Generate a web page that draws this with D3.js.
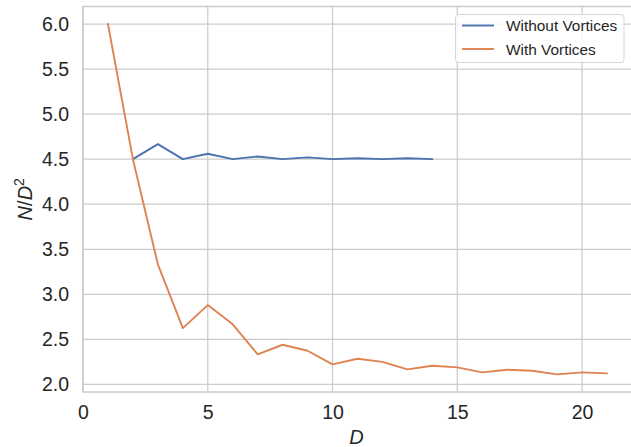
<!DOCTYPE html>
<html><head><meta charset="utf-8">
<script src="https://cdn.jsdelivr.net/npm/d3@7"></script>
<style>body{margin:0;background:#fff}svg{display:block}</style>
</head><body>
<svg id="c" width="631" height="447"></svg>
<script>
const xWithout = [2,3,4,5,6,7,8,9,10,11,12,13,14];
const yWithout = [4.5,4.667,4.5,4.56,4.5,4.53,4.5,4.52,4.5,4.51,4.5,4.51,4.5];
const xWith = [1,2,3,4,5,6,7,8,9,10,11,12,13,14,15,16,17,18,19,20,21];
const yWith = [6.0,4.5,3.333,2.625,2.88,2.667,2.333,2.44,2.373,2.222,2.284,2.25,2.167,2.207,2.189,2.133,2.162,2.151,2.111,2.133,2.122];
const seriesNames = ["Without Vortices","With Vortices"];
const seriesColors = ["#4c72b0","#dd8452"];
const xTicks = [0,5,10,15,20];
const yTicks = [2.0,2.5,3.0,3.5,4.0,4.5,5.0,5.5,6.0];

const svg = d3.select("#c");
const L=83, R=632, T=6.5, B=392;
const x = d3.scaleLinear().domain([0,22]).range([L,R]);
const y = d3.scaleLinear().domain([1.9155,6.1945]).range([B,T]);
const font = "'Liberation Sans', Arial, sans-serif";
const txt = "#262626";

// grid
svg.append("g").selectAll("line").data(xTicks).join("line")
  .attr("x1",d=>x(d)).attr("x2",d=>x(d)).attr("y1",T).attr("y2",B)
  .attr("stroke","#cccccc").attr("stroke-width",1.25);
svg.append("g").selectAll("line").data(yTicks).join("line")
  .attr("x1",L).attr("x2",R).attr("y1",d=>y(d)).attr("y2",d=>y(d))
  .attr("stroke","#cccccc").attr("stroke-width",1.25);
// spines
svg.append("rect").attr("x",L).attr("y",T).attr("width",R-L).attr("height",B-T)
  .attr("fill","none").attr("stroke","#cccccc").attr("stroke-width",1.5);

// axes
const xAxis = svg.append("g").attr("transform",`translate(0,${B})`)
  .call(d3.axisBottom(x).tickValues(xTicks).tickFormat(d3.format("d")).tickSize(0).tickPadding(13));
const yAxis = svg.append("g").attr("transform",`translate(${L},0)`)
  .call(d3.axisLeft(y).tickValues(yTicks).tickFormat(d3.format(".1f")).tickSize(0).tickPadding(14));
[xAxis,yAxis].forEach(a=>{
  a.select(".domain").remove();
  a.selectAll("text").attr("font-family",font).attr("font-size",19.5).attr("fill",txt);
});

// lines
const line = d3.line().x(d=>x(d[0])).y(d=>y(d[1]));
const data = [xWithout.map((v,i)=>[v,yWithout[i]]), xWith.map((v,i)=>[v,yWith[i]])];
data.forEach((d,i)=>{
  svg.append("path").datum(d).attr("d",line).attr("fill","none")
    .attr("stroke",seriesColors[i]).attr("stroke-width",1.9).attr("stroke-linejoin","round").attr("stroke-linecap","round");
});

// labels
svg.append("text").attr("x",(L+R)/2-1).attr("y",444).attr("text-anchor","middle")
  .attr("font-family",font).attr("font-size",20).attr("font-style","italic").attr("fill",txt).text("D");
const yl = svg.append("text").attr("transform",`translate(31.5,${(T+B)/2}) rotate(-90)`).attr("text-anchor","middle")
  .attr("font-family",font).attr("font-size",20).attr("fill",txt);
yl.append("tspan").attr("font-style","italic").text("N");
yl.append("tspan").text("/");
yl.append("tspan").attr("font-style","italic").text("D");
yl.append("tspan").attr("font-size",14).attr("dy",-8).text("2");

// legend
const lg = svg.append("g");
lg.append("rect").attr("x",455.5).attr("y",14.5).attr("width",168.5).attr("height",48).attr("rx",3)
  .attr("fill","#fff").attr("fill-opacity",0.8).attr("stroke","#d6d6d6").attr("stroke-width",1);
seriesNames.forEach((n,i)=>{
  const yy = 25.5 + i*23.5;
  lg.append("line").attr("x1",462).attr("x2",494).attr("y1",yy).attr("y2",yy)
    .attr("stroke",seriesColors[i]).attr("stroke-width",1.9);
  lg.append("text").attr("x",506).attr("y",yy+5.5).attr("font-family",font).attr("font-size",15.4)
    .attr("fill",txt).text(n);
});
</script>
</body></html>
